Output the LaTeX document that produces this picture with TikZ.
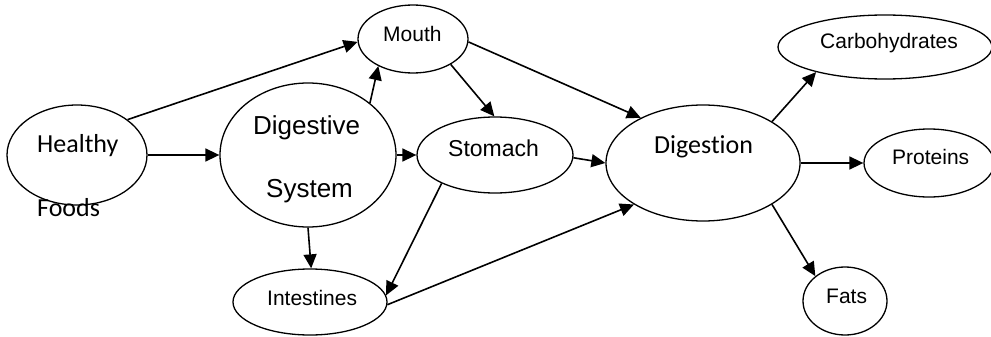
\documentclass[tikz,border=0pt]{standalone}
\usepackage{fontspec}
\newfontfamily\arialf{Liberation Sans}
\newfontfamily\calf[Ligatures=NoCommon]{Carlito}
\usetikzlibrary{shapes.geometric,arrows.meta}
\begin{document}
\begin{tikzpicture}[x=1pt,y=-1pt,
  blob/.style={draw,ellipse,line width=1.3pt,inner sep=0pt},
  lbl/.style={anchor=base west,inner sep=0pt,font=\arialf\fontsize{21}{25}\selectfont},
  clbl/.style={anchor=base west,inner sep=0pt,font=\calf\fontsize{26}{30}\selectfont},
  flow/.style={line width=1.6pt,-{Triangle[length=14pt,width=13pt]}}]
\useasboundingbox (0,0) rectangle (991,337);

% ellipses
\node[blob,minimum width=140pt,minimum height=100pt] (hf) at (77,155) {};
\node[blob,minimum width=176pt,minimum height=144pt] (ds) at (308,155) {};
\node[blob,minimum width=110pt,minimum height=68pt] (mo) at (413,39) {};
\node[blob,minimum width=156pt,minimum height=76pt] (st) at (495,155) {};
\node[blob,minimum width=154pt,minimum height=66pt] (in) at (310,302) {};
\node[blob,minimum width=194pt,minimum height=116pt] (dg) at (703,163) {};
\node[blob,minimum width=214pt,minimum height=64pt] (ca) at (885,47) {};
\node[blob,minimum width=130pt,minimum height=68pt] (pr) at (929,163) {};
\node[blob,minimum width=84pt,minimum height=68pt] (fa) at (845,301) {};

% labels
\node[clbl] (t-hf1) at (37,152) {Healthy};
\node[clbl] (t-hf2) at (37,216) {Foods};
\node[lbl,font=\arialf\fontsize{26}{30}\selectfont] (t-ds1) at (253,134) {Digestive};
\node[lbl,font=\arialf\fontsize{26}{30}\selectfont] (t-ds2) at (266,197) {System};
\node[lbl] (t-mo) at (383,42) {Mouth};
\node[lbl,font=\arialf\fontsize{23}{27}\selectfont] (t-st) at (448,156) {Stomach};
\node[lbl] (t-in) at (267,305) {Intestines};
\node[clbl] (t-dg) at (654,153) {Digestion};
\node[lbl] (t-ca) at (820,49) {Carbohydrates};
\node[lbl] (t-pr) at (892,164) {Proteins};
\node[lbl] (t-fa) at (826,303) {Fats};

% connectors
\draw[flow] (hf.35) -- (mo.183);
\draw[flow] (hf.0) -- (ds.180);
\draw[flow] (ds.40) -- (mo.218);
\draw[flow] (ds.0) -- (st.180);
\draw[flow] (ds.-90) -- (in.88);
\draw[flow] (mo.-34) -- (st.91);
\draw[flow] (mo.-3) -- (dg.144);
\draw[flow] (st.-2) -- (dg.180);
\draw[flow] (st.208) -- (in.5);
\draw[flow] (in.-2) -- (dg.211);
\draw[flow] (dg.31) -- (ca.200);
\draw[flow] (dg.0) -- (pr.180);
\draw[flow] (dg.-31) -- (fa.140);
\end{tikzpicture}
\end{document}
